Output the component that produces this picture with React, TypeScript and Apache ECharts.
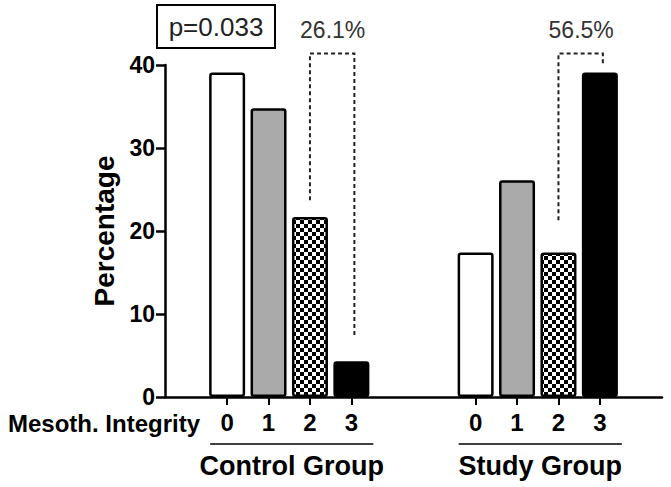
import React, { useEffect, useRef } from "react";
import * as echarts from "echarts";

const groups = ["Control Group", "Study Group"];
const integrityLevels = ["0", "1", "2", "3"];
const controlValues = [39.1, 34.8, 21.7, 4.3];
const studyValues = [17.4, 26.1, 17.4, 39.1];
const yTicks = [0, 10, 20, 30, 40];
const pValueText = "p=0.033";
const bracketLabels = ["26.1%", "56.5%"];
// bracket geometry in data units: top of bracket, bottom of left leg, bottom of right leg
const bracketTop = [41.4, 41.4];
const bracketLeftEnd = [23.7, 21.3];
const bracketRightEnd = [7.2, 40];
const axisTitle = "Percentage";
const rowTitle = "Mesoth. Integrity";

const FONT = "'Liberation Sans', Arial, Helvetica, sans-serif";

export default function App() {
  const ref = useRef<HTMLDivElement>(null);

  useEffect(() => {
    if (!ref.current) return;
    const chart = echarts.init(ref.current, undefined, { renderer: "svg" });

    // categories: gap, control 0..3, gap, gap, study 0..3, gap
    const groupValues = [controlValues, studyValues];
    const categories: string[] = [];
    const catIndex: number[][] = [[], []];
    categories.push("gap-a");
    groups.forEach((g, gi) => {
      if (gi === 1) {
        categories.push("gap-b");
        categories.push("gap-c");
      }
      integrityLevels.forEach((lvl) => {
        catIndex[gi].push(categories.length);
        categories.push(g + "|" + lvl);
      });
    });
    categories.push("gap-d");

    const cv = document.createElement("canvas");
    cv.width = 8;
    cv.height = 8;
    const ctx = cv.getContext("2d")!;
    ctx.fillStyle = "#ffffff";
    ctx.fillRect(0, 0, 8, 8);
    ctx.fillStyle = "#000000";
    ctx.fillRect(0, 0, 4, 4);
    ctx.fillRect(4, 4, 4, 4);
    const checker: any = { image: cv.toDataURL(), repeat: "repeat", imageWidth: 8, imageHeight: 8 };
    const fills: any[] = ["#ffffff", "#aaaaaa", checker, "#000000"];

    const data: any[] = categories.map((c) => {
      if (c.indexOf("|") < 0) return "-";
      const [g, lvl] = c.split("|");
      const gi = groups.indexOf(g);
      const li = integrityLevels.indexOf(lvl);
      return { value: groupValues[gi][li], itemStyle: { color: fills[li] } };
    });

    chart.setOption({
      animation: false,
      grid: { left: 165, right: 9, top: 65, bottom: 90, containLabel: false },
      xAxis: {
        type: "category",
        data: categories,
        axisLine: { show: true, lineStyle: { color: "#000", width: 2.5 } },
        axisTick: {
          show: true,
          alignWithLabel: true,
          length: 8,
          interval: (_i: number, v: string) => v.indexOf("|") >= 0,
          lineStyle: { color: "#000", width: 2 },
        },
        axisLabel: {
          interval: 0,
          margin: 13,
          color: "#000",
          fontSize: 24,
          fontWeight: "bold",
          fontFamily: FONT,
          formatter: (v: string) => (v.indexOf("|") >= 0 ? v.split("|")[1] : ""),
        },
        splitLine: { show: false },
      },
      yAxis: {
        type: "value",
        min: yTicks[0],
        max: yTicks[yTicks.length - 1],
        interval: yTicks[1] - yTicks[0],
        name: axisTitle,
        nameLocation: "middle",
        nameGap: 47,
        nameTextStyle: { fontSize: 28, fontWeight: "bold", color: "#000", fontFamily: FONT },
        axisLine: { show: true, lineStyle: { color: "#000", width: 2.5 } },
        axisTick: { show: true, length: 9, lineStyle: { color: "#000", width: 2.5 } },
        axisLabel: { margin: 10, color: "#000", fontSize: 23, fontWeight: "bold", fontFamily: FONT },
        splitLine: { show: false },
      },
      series: [
        {
          type: "bar",
          barWidth: 36,
          silent: true,
          data,
          itemStyle: { borderColor: "#000", borderWidth: 2.5, borderRadius: 2 },
        },
      ],
    });

    const px = (cat: number, v: number) =>
      chart.convertToPixel({ gridIndex: 0 } as any, [cat, v]) as unknown as number[];

    const graphics: any[] = [];
    graphics.push({
      type: "rect",
      shape: { x: 157, y: 5, width: 118, height: 43 },
      style: { fill: "none", stroke: "#000", lineWidth: 2 },
    });
    graphics.push({
      type: "text",
      x: 216,
      y: 27,
      style: { text: pValueText, fontSize: 26, fill: "#222", align: "center", verticalAlign: "middle", fontFamily: FONT },
    });
    graphics.push({
      type: "text",
      x: 8,
      y: 423,
      style: { text: rowTitle, fontSize: 24, fontWeight: "bold", fill: "#000", align: "left", verticalAlign: "middle", fontFamily: FONT },
    });

    groups.forEach((g, gi) => {
      const idx = catIndex[gi];
      const leftTop = px(idx[2], bracketTop[gi]);
      const leftEnd = px(idx[2], bracketLeftEnd[gi]);
      const rightTop = px(idx[3], bracketTop[gi]);
      const rightEnd = px(idx[3], bracketRightEnd[gi]);
      graphics.push({
        type: "polyline",
        shape: {
          points: [
            [leftEnd[0], leftEnd[1]],
            [leftTop[0], leftTop[1]],
            [rightTop[0] + 3, rightTop[1]],
            [rightEnd[0] + 3, rightEnd[1]],
          ],
        },
        style: { stroke: "#222", lineWidth: 2, lineDash: [4, 3], fill: "none" },
      });
      graphics.push({
        type: "text",
        x: (leftTop[0] + rightTop[0]) / 2 + 2,
        y: leftTop[1] - 23,
        style: { text: bracketLabels[gi], fontSize: 23, fill: "#333", align: "center", verticalAlign: "middle", fontFamily: FONT },
      });
      const first = px(idx[0], 0);
      const last = px(idx[3], 0);
      const x1 = first[0] - 17;
      const x2 = last[0] + 22;
      graphics.push({
        type: "line",
        shape: { x1, y1: 444, x2, y2: 444 },
        style: { stroke: "#000", lineWidth: 1.5 },
      });
      graphics.push({
        type: "text",
        x: (x1 + x2) / 2,
        y: 466,
        style: { text: g, fontSize: 27, fontWeight: "bold", fill: "#000", align: "center", verticalAlign: "middle", fontFamily: FONT },
      });
    });

    chart.setOption({ graphic: graphics });

    return () => chart.dispose();
  }, []);

  return (
    <div
      ref={ref}
      style={{ position: "fixed", left: 0, top: 0, width: 671, height: 487, background: "#fff" }}
    />
  );
}
